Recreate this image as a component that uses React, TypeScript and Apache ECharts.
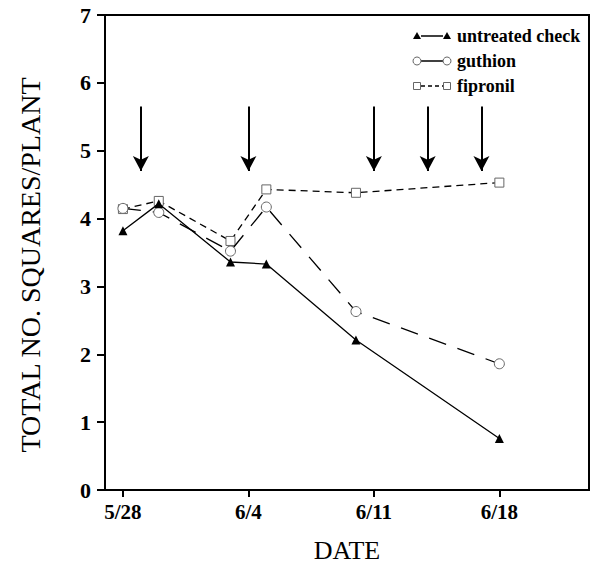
import React, { useEffect, useRef } from "react";
import * as echarts from "echarts";

// days since 5/28
const sampleDays = [0, 2, 6, 8, 13, 21];
const untreated = [3.82, 4.22, 3.36, 3.33, 2.21, 0.76];
const guthion = [4.15, 4.09, 3.52, 4.17, 2.63, 1.86];
const fipronil = [4.14, 4.26, 3.67, 4.43, 4.38, 4.53];
const tickDays = [0, 7, 14, 21];
const tickLabels = ["5/28", "6/4", "6/11", "6/18"];
const sprayDays = [1, 7, 14, 17, 20];
const arrowTop = 5.65;
const arrowBottom = 4.7;
const legendNames = ["untreated check", "guthion", "fipronil"];
const yTitle = "TOTAL NO. SQUARES/PLANT";
const xTitle = "DATE";

const FONT = "'Liberation Serif', 'Times New Roman', serif";

export default function App() {
  const ref = useRef<HTMLDivElement>(null);
  useEffect(() => {
    if (!ref.current) return;
    const chart = echarts.init(ref.current, null, { renderer: "svg" });
    const pairs = (ys: number[]) => sampleDays.map((d, i) => [d, ys[i]]);

    const legendY = [36, 61, 86];
    const legendGraphics: any[] = [];
    legendNames.forEach((name, i) => {
      const y = legendY[i];
      const dash = i === 2 ? [4, 3] : null;
      legendGraphics.push({
        type: "line",
        shape: { x1: 421, y1: y, x2: 443, y2: y },
        style: { stroke: "#000", lineWidth: 1.5, lineDash: dash },
        z: 10,
      });
      [417, 447].forEach((x) => {
        if (i === 0) {
          legendGraphics.push({
            type: "polygon",
            shape: { points: [[x, y - 4], [x - 4, y + 3], [x + 4, y + 3]] },
            style: { fill: "#000" },
            z: 11,
          });
        } else if (i === 1) {
          legendGraphics.push({
            type: "circle",
            shape: { cx: x, cy: y, r: 4 },
            style: { fill: "#fff", stroke: "#666", lineWidth: 1 },
            z: 11,
          });
        } else {
          legendGraphics.push({
            type: "rect",
            shape: { x: x - 3.5, y: y - 3.5, width: 7, height: 7 },
            style: { fill: "#fff", stroke: "#666", lineWidth: 1 },
            z: 11,
          });
        }
      });
      legendGraphics.push({
        type: "text",
        x: 457,
        y: y,
        style: {
          text: name,
          font: `bold 18px ${FONT}`,
          fill: "#000",
          verticalAlign: "middle",
        },
        z: 11,
      });
    });
    legendGraphics.push({
      type: "text",
      x: 30,
      y: 265,
      rotation: Math.PI / 2,
      style: {
        text: yTitle,
        font: `28px ${FONT}`,
        fill: "#000",
        align: "center",
        verticalAlign: "middle",
      },
    });

    chart.setOption({
      animation: false,
      backgroundColor: "#fff",
      grid: {
        left: 105,
        right: 4,
        top: 15,
        bottom: 87,
        show: true,
        borderColor: "#000",
        borderWidth: 2,
      },
      xAxis: {
        type: "value",
        min: -1,
        max: 26,
        name: xTitle,
        nameLocation: "middle",
        nameGap: 47,
        nameTextStyle: { fontFamily: FONT, fontSize: 26, color: "#000" },
        axisLine: { show: true, onZero: false, lineStyle: { color: "#000", width: 2 } },
        axisTick: {
          show: true,
          length: 7,
          lineStyle: { color: "#000", width: 2 },
          customValues: tickDays,
        },
        axisLabel: {
          customValues: tickDays,
          formatter: (v: number) => tickLabels[tickDays.indexOf(v)] ?? "",
          fontFamily: FONT,
          fontSize: 21,
          fontWeight: "bold",
          color: "#000",
          margin: 11,
        },
        splitLine: { show: false },
      },
      yAxis: {
        type: "value",
        min: 0,
        max: 7,
        interval: 1,
        axisLine: { show: true, onZero: false, lineStyle: { color: "#000", width: 2 } },
        axisTick: { show: true, length: 8, lineStyle: { color: "#000", width: 2 } },
        axisLabel: {
          fontFamily: FONT,
          fontSize: 22,
          fontWeight: "bold",
          color: "#000",
          margin: 14,
        },
        splitLine: { show: false },
      },
      series: [
        {
          name: legendNames[0],
          type: "line",
          data: pairs(untreated),
          symbol: "triangle",
          symbolSize: 9,
          itemStyle: { color: "#000" },
          lineStyle: { color: "#000", width: 1.3 },
          z: 5,
          markLine: {
            silent: true,
            animation: false,
            label: { show: false },
            lineStyle: { color: "#000", width: 2, type: "solid" },
            symbol: ["none", "arrow"],
            symbolSize: [12, 15],
            data: sprayDays.map((d) => [
              { coord: [d, arrowTop] },
              { coord: [d, arrowBottom] },
            ]),
          },
        },
        {
          name: legendNames[1],
          type: "line",
          data: pairs(guthion),
          symbol: "circle",
          symbolSize: 10,
          itemStyle: { color: "#fff", borderColor: "#666", borderWidth: 1 },
          lineStyle: { color: "#000", width: 1.3, type: [18, 12] },
          z: 4,
        },
        {
          name: legendNames[2],
          type: "line",
          data: pairs(fipronil),
          symbol: "rect",
          symbolSize: 9,
          itemStyle: { color: "#fff", borderColor: "#666", borderWidth: 1 },
          lineStyle: { color: "#000", width: 1.3, type: [7, 5] },
          z: 3,
        },
      ],
      graphic: legendGraphics,
    });
    return () => chart.dispose();
  }, []);
  return <div ref={ref} style={{ width: 593, height: 577, position: "absolute", left: 0, top: 0 }} />;
}
